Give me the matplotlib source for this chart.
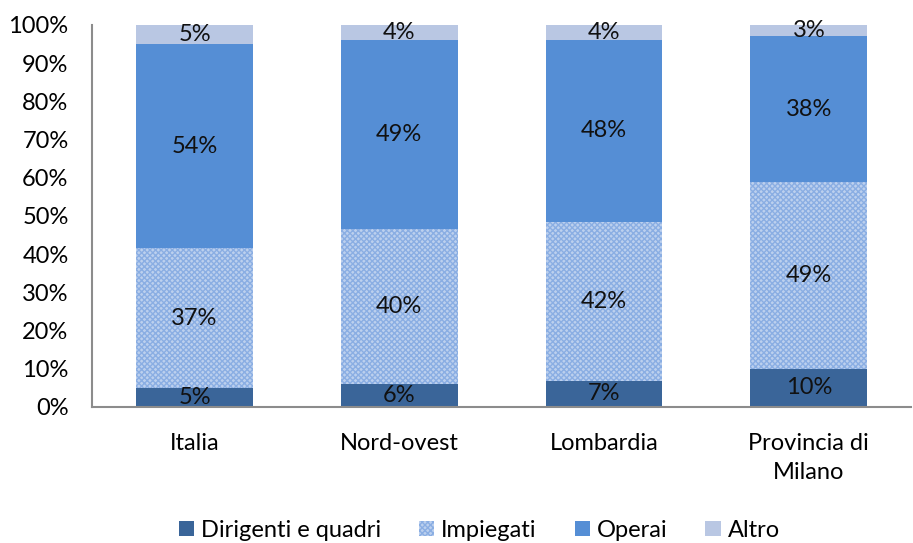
import matplotlib.pyplot as plt
import numpy as np

plt.rcParams['font.family'] = ['Lato', 'DejaVu Sans']

categorie = ["Italia", "Nord-ovest", "Lombardia", "Provincia di\nMilano"]
serie = ["Dirigenti e quadri", "Impiegati", "Operai", "Altro"]
dirigenti = [5, 6, 7, 10]
impiegati = [37, 40, 42, 49]
operai = [54, 49, 48, 38]
altro = [5, 4, 4, 3]

colori = ["#3a6599", "#bcd0ee", "#558ed5", "#b9c7e3"]

valori = np.array([dirigenti, impiegati, operai, altro], dtype=float)
quote = valori / valori.sum(axis=0) * 100

fs = 17

fig = plt.figure(figsize=(9.13, 5.43), dpi=100)
ax = fig.add_axes([0.101, 0.2505, 0.897, 0.7035])

x = np.arange(len(categorie))
base = np.zeros(len(categorie))
barre = []
for i, nome in enumerate(serie):
    if nome == "Impiegati":
        b = ax.bar(x, quote[i], 0.57, bottom=base, label=nome,
                   facecolor=colori[i], edgecolor="#8aaee3", hatch="xxxxxx", lw=0)
    else:
        b = ax.bar(x, quote[i], 0.57, bottom=base, label=nome,
                   color=colori[i], lw=0)
    for xi, b0, h, v in zip(x, base, quote[i], valori[i]):
        ax.text(xi, b0 + h / 2, "{:.0f}%".format(v), ha="center", va="center",
                fontsize=fs, color="#111111")
    base += quote[i]
    barre.append(b)

ax.set_xlim(-0.5, 3.5)
ax.set_ylim(0, 100)
ax.set_yticks(range(0, 101, 10))
ax.set_yticklabels(["{}%".format(v) for v in range(0, 101, 10)], fontsize=fs)
ax.set_xticks(x)
ax.set_xticklabels(categorie, fontsize=fs, linespacing=1.45)
ax.tick_params(axis="both", length=0)
ax.tick_params(axis="x", pad=19)
ax.tick_params(axis="y", pad=17)
for s in ["top", "right"]:
    ax.spines[s].set_visible(False)
for s in ["left", "bottom"]:
    ax.spines[s].set_color("#8c8c8c")
    ax.spines[s].set_linewidth(1.5)

fig.legend(handles=barre, loc="lower center", bbox_to_anchor=(0.525, -0.035), ncol=4,
           frameon=False, fontsize=fs, handlelength=0.65, handleheight=0.65,
           handletextpad=0.3, columnspacing=1.6)

fig.savefig("out.png", dpi=100)
